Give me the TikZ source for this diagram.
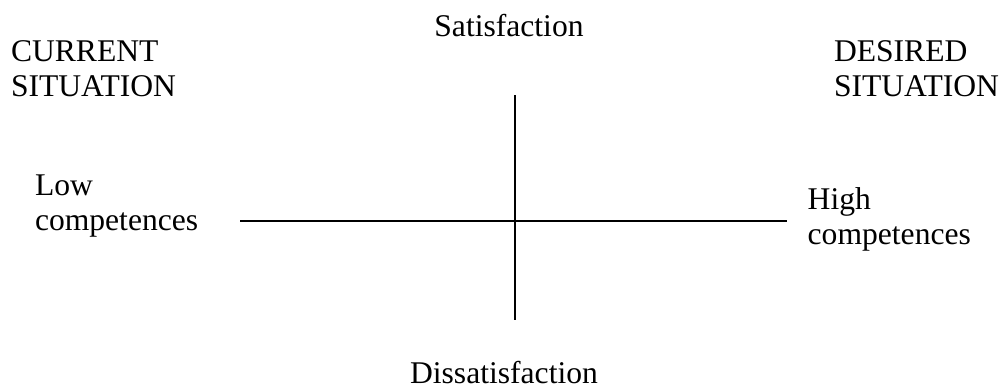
\documentclass[tikz,border=0pt]{standalone}
\usepackage{fontspec}
\setmainfont{Liberation Serif}
\begin{document}
\begin{tikzpicture}[x=1pt,y=-1pt,
  lbl/.style={inner sep=0pt, outer sep=0pt, align=left, anchor=base west,
    font=\fontsize{31.6}{35}\selectfont},
  axis/.style={line width=1.6pt, black}]
\useasboundingbox[fill=white] (0,0) rectangle (1005,388);
\node[lbl] (cur) at (11,96) {CURRENT\\SITUATION};
\node[lbl] (des) at (834,96.7) {DESIRED\\SITUATION};
\node[lbl, anchor=base] (sat) at (509,36) {Satisfaction};
\node[lbl, anchor=base] (dis) at (504,383) {Dissatisfaction};
\node[lbl] (low) at (35,230.7) {Low\\competences};
\node[lbl] (high) at (807.7,244) {High\\competences};
\coordinate (top) at (514.7,95);
\coordinate (bot) at (514.7,320);
\coordinate (lft) at (240,220.8);
\coordinate (rgt) at (786.7,220.8);
\draw[axis] (top) -- (bot);
\draw[axis] (lft) -- (rgt);
\end{tikzpicture}
\end{document}
